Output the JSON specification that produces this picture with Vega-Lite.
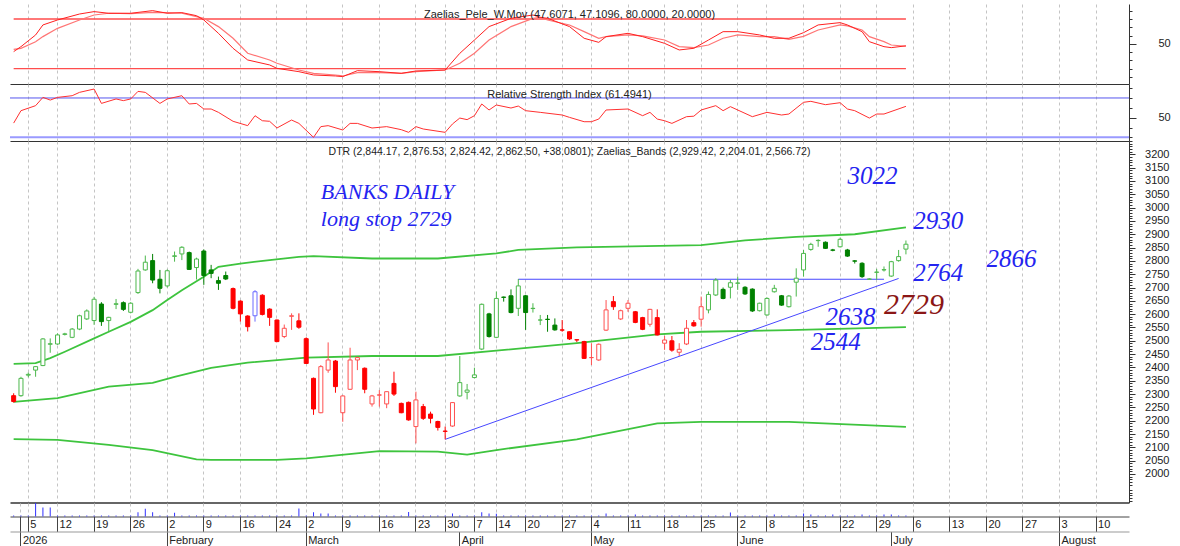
{
"$schema":"https://vega.github.io/schema/vega-lite/v6.json",
"padding":{"left":9,"top":4,"right":0,"bottom":0},
"background":"white",
"spacing":0,
"bounds":"flush",
"config":{"view":{"stroke":null},"font":"Liberation Sans","axis":{"labelFont":"Liberation Sans","labelFontSize":11,"labelColor":"#222","domainColor":"#333","tickColor":"#333","labelOverlap":false,"labelFlush":false,"labelBound":false,"labelAngle":0}},
"datasets":{
"candles":[
{"d":"2025-12-31","o":2294,"h":2303,"l":2268,"c":2272,"t":"R","v":8},
{"d":"2026-01-02","o":2294,"h":2365,"l":2290,"c":2359,"t":"G","v":8},
{"d":"2026-01-05","o":2371,"h":2381,"l":2363,"c":2374,"t":"G","v":8},
{"d":"2026-01-06","o":2390,"h":2405,"l":2365,"c":2403,"t":"G","v":100},
{"d":"2026-01-07","o":2407,"h":2510,"l":2405,"c":2507,"t":"G","v":66},
{"d":"2026-01-08","o":2487,"h":2509,"l":2455,"c":2489,"t":"G","v":66},
{"d":"2026-01-12","o":2488,"h":2528,"l":2485,"c":2522,"t":"G","v":8},
{"d":"2026-01-13","o":2524,"h":2530,"l":2520,"c":2526,"t":"G","v":8},
{"d":"2026-01-14","o":2513,"h":2548,"l":2510,"c":2544,"t":"G","v":8},
{"d":"2026-01-15","o":2544,"h":2598,"l":2540,"c":2594,"t":"G","v":8},
{"d":"2026-01-16","o":2582,"h":2618,"l":2578,"c":2612,"t":"G","v":8},
{"d":"2026-01-19","o":2576,"h":2665,"l":2560,"c":2656,"t":"G","v":8},
{"d":"2026-01-20","o":2638,"h":2645,"l":2556,"c":2572,"t":"G","v":8},
{"d":"2026-01-21","o":2576,"h":2590,"l":2534,"c":2588,"t":"G","v":8},
{"d":"2026-01-22","o":2637,"h":2657,"l":2619,"c":2639,"t":"G","v":8},
{"d":"2026-01-23","o":2643,"h":2648,"l":2612,"c":2618,"t":"G","v":8},
{"d":"2026-01-26","o":2607,"h":2645,"l":2603,"c":2641,"t":"G","v":8},
{"d":"2026-01-27","o":2681,"h":2770,"l":2676,"c":2762,"t":"G","v":31},
{"d":"2026-01-28","o":2766,"h":2820,"l":2763,"c":2795,"t":"G","v":57},
{"d":"2026-01-29","o":2801,"h":2826,"l":2716,"c":2728,"t":"G","v":31},
{"d":"2026-01-30","o":2731,"h":2766,"l":2678,"c":2697,"t":"G","v":8},
{"d":"2026-02-02","o":2706,"h":2768,"l":2700,"c":2763,"t":"G","v":8},
{"d":"2026-02-03","o":2817,"h":2835,"l":2797,"c":2819,"t":"G","v":28},
{"d":"2026-02-04","o":2826,"h":2855,"l":2803,"c":2851,"t":"G","v":8},
{"d":"2026-02-05","o":2831,"h":2835,"l":2766,"c":2768,"t":"G","v":8},
{"d":"2026-02-06","o":2775,"h":2812,"l":2730,"c":2807,"t":"G","v":8},
{"d":"2026-02-09","o":2837,"h":2843,"l":2710,"c":2745,"t":"G","v":8},
{"d":"2026-02-10","o":2766,"h":2785,"l":2735,"c":2753,"t":"G","v":8},
{"d":"2026-02-11","o":2726,"h":2741,"l":2691,"c":2716,"t":"G","v":8},
{"d":"2026-02-12","o":2745,"h":2760,"l":2728,"c":2732,"t":"G","v":8},
{"d":"2026-02-13","o":2696,"h":2700,"l":2618,"c":2622,"t":"R","v":8},
{"d":"2026-02-16","o":2649,"h":2652,"l":2572,"c":2601,"t":"R","v":8},
{"d":"2026-02-17","o":2593,"h":2596,"l":2535,"c":2553,"t":"R","v":8},
{"d":"2026-02-18","o":2594,"h":2690,"l":2572,"c":2684,"t":"B","v":8},
{"d":"2026-02-19","o":2671,"h":2675,"l":2595,"c":2599,"t":"R","v":8},
{"d":"2026-02-20","o":2619,"h":2622,"l":2556,"c":2588,"t":"R","v":8},
{"d":"2026-02-24","o":2578,"h":2580,"l":2495,"c":2497,"t":"R","v":8},
{"d":"2026-02-25","o":2516,"h":2561,"l":2510,"c":2547,"t":"R","v":8},
{"d":"2026-02-26","o":2592,"h":2603,"l":2541,"c":2594,"t":"R","v":8},
{"d":"2026-02-27","o":2575,"h":2603,"l":2545,"c":2551,"t":"R","v":60},
{"d":"2026-03-02","o":2508,"h":2513,"l":2413,"c":2415,"t":"R","v":8},
{"d":"2026-03-03","o":2359,"h":2362,"l":2222,"c":2244,"t":"R","v":31},
{"d":"2026-03-04","o":2230,"h":2409,"l":2228,"c":2403,"t":"R","v":22},
{"d":"2026-03-05","o":2390,"h":2494,"l":2380,"c":2428,"t":"R","v":22},
{"d":"2026-03-06","o":2424,"h":2428,"l":2305,"c":2328,"t":"R","v":8},
{"d":"2026-03-09","o":2230,"h":2295,"l":2196,"c":2293,"t":"R","v":8},
{"d":"2026-03-10","o":2318,"h":2474,"l":2316,"c":2428,"t":"R","v":8},
{"d":"2026-03-11","o":2428,"h":2440,"l":2390,"c":2437,"t":"R","v":8},
{"d":"2026-03-12","o":2397,"h":2400,"l":2303,"c":2318,"t":"R","v":8},
{"d":"2026-03-13","o":2263,"h":2297,"l":2253,"c":2293,"t":"R","v":8},
{"d":"2026-03-16","o":2296,"h":2315,"l":2253,"c":2297,"t":"R","v":8},
{"d":"2026-03-17","o":2263,"h":2310,"l":2247,"c":2309,"t":"R","v":8},
{"d":"2026-03-18","o":2340,"h":2384,"l":2293,"c":2300,"t":"R","v":8},
{"d":"2026-03-19","o":2265,"h":2268,"l":2228,"c":2230,"t":"R","v":8},
{"d":"2026-03-20","o":2269,"h":2272,"l":2200,"c":2203,"t":"R","v":34},
{"d":"2026-03-23","o":2178,"h":2309,"l":2115,"c":2278,"t":"R","v":8},
{"d":"2026-03-24","o":2253,"h":2263,"l":2203,"c":2209,"t":"R","v":8},
{"d":"2026-03-25","o":2225,"h":2234,"l":2190,"c":2209,"t":"R","v":8},
{"d":"2026-03-26","o":2197,"h":2200,"l":2163,"c":2175,"t":"R","v":8},
{"d":"2026-03-30","o":2161,"h":2178,"l":2130,"c":2160,"t":"R","v":8},
{"d":"2026-03-31","o":2180,"h":2270,"l":2177,"c":2268,"t":"R","v":22},
{"d":"2026-04-01","o":2293,"h":2443,"l":2290,"c":2343,"t":"G","v":8},
{"d":"2026-04-02","o":2307,"h":2338,"l":2280,"c":2315,"t":"G","v":8},
{"d":"2026-04-07","o":2362,"h":2399,"l":2359,"c":2372,"t":"G","v":8},
{"d":"2026-04-08","o":2469,"h":2640,"l":2465,"c":2637,"t":"G","v":31},
{"d":"2026-04-09","o":2601,"h":2605,"l":2512,"c":2516,"t":"G","v":22},
{"d":"2026-04-14","o":2513,"h":2685,"l":2510,"c":2659,"t":"G","v":20},
{"d":"2026-04-15","o":2664,"h":2666,"l":2647,"c":2663,"t":"G","v":8},
{"d":"2026-04-16","o":2669,"h":2693,"l":2603,"c":2606,"t":"G","v":8},
{"d":"2026-04-17","o":2622,"h":2732,"l":2593,"c":2706,"t":"G","v":8},
{"d":"2026-04-20","o":2669,"h":2672,"l":2541,"c":2606,"t":"G","v":8},
{"d":"2026-04-21","o":2621,"h":2641,"l":2606,"c":2622,"t":"G","v":8},
{"d":"2026-04-22","o":2578,"h":2597,"l":2559,"c":2578,"t":"G","v":8},
{"d":"2026-04-23","o":2581,"h":2597,"l":2534,"c":2580,"t":"G","v":8},
{"d":"2026-04-24","o":2559,"h":2584,"l":2538,"c":2541,"t":"G","v":8},
{"d":"2026-04-27","o":2541,"h":2578,"l":2534,"c":2540,"t":"R","v":8},
{"d":"2026-04-28","o":2534,"h":2535,"l":2503,"c":2507,"t":"R","v":8},
{"d":"2026-04-29","o":2504,"h":2506,"l":2495,"c":2503,"t":"R","v":8},
{"d":"2026-04-30","o":2497,"h":2500,"l":2432,"c":2434,"t":"R","v":8},
{"d":"2026-05-04","o":2437,"h":2491,"l":2409,"c":2437,"t":"R","v":8},
{"d":"2026-05-05","o":2428,"h":2490,"l":2425,"c":2487,"t":"R","v":8},
{"d":"2026-05-06","o":2540,"h":2653,"l":2537,"c":2616,"t":"R","v":22},
{"d":"2026-05-07","o":2647,"h":2668,"l":2616,"c":2628,"t":"R","v":8},
{"d":"2026-05-08","o":2582,"h":2617,"l":2578,"c":2613,"t":"R","v":8},
{"d":"2026-05-11","o":2622,"h":2653,"l":2609,"c":2641,"t":"R","v":8},
{"d":"2026-05-12","o":2609,"h":2612,"l":2566,"c":2569,"t":"R","v":15},
{"d":"2026-05-13","o":2587,"h":2590,"l":2540,"c":2543,"t":"R","v":8},
{"d":"2026-05-14","o":2562,"h":2620,"l":2553,"c":2618,"t":"R","v":8},
{"d":"2026-05-15","o":2587,"h":2618,"l":2520,"c":2522,"t":"R","v":8},
{"d":"2026-05-18","o":2491,"h":2518,"l":2466,"c":2503,"t":"R","v":8},
{"d":"2026-05-19","o":2500,"h":2518,"l":2459,"c":2465,"t":"R","v":8},
{"d":"2026-05-20","o":2457,"h":2491,"l":2443,"c":2468,"t":"R","v":8},
{"d":"2026-05-21","o":2488,"h":2578,"l":2484,"c":2547,"t":"R","v":8},
{"d":"2026-05-22","o":2568,"h":2578,"l":2553,"c":2556,"t":"R","v":8},
{"d":"2026-05-25","o":2581,"h":2666,"l":2553,"c":2628,"t":"R","v":8},
{"d":"2026-05-26","o":2616,"h":2685,"l":2603,"c":2674,"t":"G","v":8},
{"d":"2026-05-27","o":2672,"h":2735,"l":2668,"c":2728,"t":"G","v":8},
{"d":"2026-05-28","o":2693,"h":2700,"l":2656,"c":2659,"t":"G","v":8},
{"d":"2026-05-29","o":2701,"h":2728,"l":2659,"c":2718,"t":"G","v":30},
{"d":"2026-06-02","o":2716,"h":2741,"l":2691,"c":2717,"t":"G","v":8},
{"d":"2026-06-03","o":2701,"h":2705,"l":2672,"c":2676,"t":"G","v":8},
{"d":"2026-06-04","o":2694,"h":2697,"l":2608,"c":2612,"t":"G","v":8},
{"d":"2026-06-05","o":2613,"h":2643,"l":2610,"c":2641,"t":"G","v":8},
{"d":"2026-06-08","o":2597,"h":2663,"l":2594,"c":2659,"t":"G","v":8},
{"d":"2026-06-09","o":2684,"h":2710,"l":2681,"c":2697,"t":"G","v":15},
{"d":"2026-06-10","o":2669,"h":2672,"l":2631,"c":2634,"t":"G","v":8},
{"d":"2026-06-11","o":2628,"h":2672,"l":2625,"c":2668,"t":"G","v":8},
{"d":"2026-06-12","o":2720,"h":2772,"l":2666,"c":2735,"t":"G","v":8},
{"d":"2026-06-15","o":2766,"h":2841,"l":2741,"c":2828,"t":"G","v":22},
{"d":"2026-06-16","o":2843,"h":2868,"l":2838,"c":2862,"t":"G","v":15},
{"d":"2026-06-17","o":2876,"h":2881,"l":2853,"c":2877,"t":"G","v":8},
{"d":"2026-06-18","o":2870,"h":2873,"l":2845,"c":2847,"t":"G","v":8},
{"d":"2026-06-19","o":2841,"h":2845,"l":2836,"c":2840,"t":"G","v":15},
{"d":"2026-06-22","o":2853,"h":2887,"l":2850,"c":2881,"t":"G","v":8},
{"d":"2026-06-23","o":2841,"h":2845,"l":2815,"c":2818,"t":"G","v":8},
{"d":"2026-06-24","o":2800,"h":2803,"l":2790,"c":2799,"t":"G","v":8},
{"d":"2026-06-25","o":2791,"h":2795,"l":2736,"c":2741,"t":"G","v":15},
{"d":"2026-06-26","o":2731,"h":2735,"l":2729,"c":2732,"t":"G","v":8},
{"d":"2026-06-29","o":2757,"h":2770,"l":2729,"c":2758,"t":"G","v":8},
{"d":"2026-06-30","o":2766,"h":2779,"l":2760,"c":2767,"t":"G","v":15},
{"d":"2026-07-01","o":2743,"h":2800,"l":2740,"c":2797,"t":"G","v":15},
{"d":"2026-07-02","o":2801,"h":2841,"l":2797,"c":2816,"t":"G","v":8},
{"d":"2026-07-03","o":2844.17,"h":2876.53,"l":2824.42,"c":2862.5,"t":"G","v":8}
],
"osc":[
{"d":"2025-12-31","a":40.6,"b":43.4},{"d":"2026-01-02","a":46.6,"b":44.6},{"d":"2026-01-06","a":60.7,"b":52.6},{"d":"2026-01-07","a":72.8,"b":58.7},{"d":"2026-01-12","a":78.8,"b":68.7},{"d":"2026-01-15","a":86,"b":78.8},{"d":"2026-01-19","a":88.9,"b":84.8},{"d":"2026-01-21","a":86.9,"b":86.9},{"d":"2026-01-26","a":86.9,"b":86.5},{"d":"2026-01-29","a":90.1,"b":88},{"d":"2026-02-02","a":86.9,"b":87.7},{"d":"2026-02-04","a":87.7,"b":86.9},{"d":"2026-02-06","a":84,"b":82.8},{"d":"2026-02-09","a":78.8,"b":80.8},{"d":"2026-02-11","a":62.7,"b":70.8},{"d":"2026-02-13","a":44.6,"b":56.7},{"d":"2026-02-17","a":30.5,"b":38.6},{"d":"2026-02-20","a":24.5,"b":30.5},{"d":"2026-02-24","a":20.4,"b":26.5},{"d":"2026-02-27","a":16.4,"b":18.4},{"d":"2026-03-03","a":12.4,"b":14.4},{"d":"2026-03-06","a":11.2,"b":12.4},{"d":"2026-03-09","a":10.4,"b":11.2},{"d":"2026-03-11","a":17.6,"b":15.2},{"d":"2026-03-16","a":16.4,"b":15.2},{"d":"2026-03-19","a":14.4,"b":14.4},{"d":"2026-03-23","a":17.2,"b":16.4},{"d":"2026-03-30","a":18.4,"b":18.4},{"d":"2026-04-01","a":38.5,"b":26.5},{"d":"2026-04-07","a":54.6,"b":38.6},{"d":"2026-04-09","a":70.8,"b":54.6},{"d":"2026-04-16","a":80.8,"b":70.8},{"d":"2026-04-21","a":84.8,"b":80.8},{"d":"2026-04-22","a":82,"b":82},{"d":"2026-04-23","a":80.8,"b":78.8},{"d":"2026-04-28","a":70.8,"b":72.8},{"d":"2026-04-30","a":56.7,"b":64.7},{"d":"2026-05-05","a":51.8,"b":56.7},{"d":"2026-05-06","a":58.7,"b":58.7},{"d":"2026-05-11","a":62.7,"b":60.7},{"d":"2026-05-13","a":58.7,"b":59.5},{"d":"2026-05-18","a":50.6,"b":54.6},{"d":"2026-05-20","a":42.6,"b":46.6},{"d":"2026-05-22","a":44.6,"b":45.4},{"d":"2026-05-26","a":54.6,"b":48.6},{"d":"2026-05-28","a":64.7,"b":56.7},{"d":"2026-06-02","a":64.7,"b":60.7},{"d":"2026-06-05","a":60.7,"b":58.7},{"d":"2026-06-09","a":56.7,"b":58.7},{"d":"2026-06-11","a":56.7,"b":55.5},{"d":"2026-06-15","a":63.5,"b":59},{"d":"2026-06-17","a":72.8,"b":66.7},{"d":"2026-06-22","a":75.6,"b":72.8},{"d":"2026-06-23","a":72.8,"b":71.6},{"d":"2026-06-25","a":64.7,"b":66.7},{"d":"2026-06-26","a":52.6,"b":58.7},{"d":"2026-06-30","a":46.6,"b":52.6},{"d":"2026-07-01","a":45.4,"b":48.6},{"d":"2026-07-03","a":47.6071,"b":47.1096}
],
"rsi":[
{"d":"2025-12-31","r":44.5},{"d":"2026-01-02","r":57.1},{"d":"2026-01-06","r":62.2},{"d":"2026-01-07","r":70.6},{"d":"2026-01-08","r":67.9},{"d":"2026-01-12","r":70.6},{"d":"2026-01-14","r":72.3},{"d":"2026-01-15","r":75.7},{"d":"2026-01-19","r":79.1},{"d":"2026-01-20","r":64.5},{"d":"2026-01-22","r":69},{"d":"2026-01-23","r":67.3},{"d":"2026-01-26","r":69},{"d":"2026-01-27","r":76.7},{"d":"2026-01-28","r":75.7},{"d":"2026-01-30","r":64.5},{"d":"2026-02-02","r":69},{"d":"2026-02-04","r":72.3},{"d":"2026-02-05","r":63.9},{"d":"2026-02-06","r":64.5},{"d":"2026-02-09","r":58.8},{"d":"2026-02-10","r":58.8},{"d":"2026-02-11","r":55.4},{"d":"2026-02-13","r":46.3},{"d":"2026-02-17","r":41.9},{"d":"2026-02-18","r":52},{"d":"2026-02-19","r":46.9},{"d":"2026-02-20","r":46.3},{"d":"2026-02-24","r":39.5},{"d":"2026-02-26","r":47.6},{"d":"2026-02-27","r":44.2},{"d":"2026-03-03","r":30},{"d":"2026-03-04","r":40.9},{"d":"2026-03-05","r":41.9},{"d":"2026-03-09","r":37.5},{"d":"2026-03-10","r":44.2},{"d":"2026-03-11","r":44.2},{"d":"2026-03-13","r":39.5},{"d":"2026-03-17","r":40.9},{"d":"2026-03-19","r":37.8},{"d":"2026-03-20","r":35.1},{"d":"2026-03-23","r":40.9},{"d":"2026-03-24","r":38.5},{"d":"2026-03-30","r":35.1},{"d":"2026-03-31","r":43.6},{"d":"2026-04-01","r":49.6},{"d":"2026-04-02","r":48},{"d":"2026-04-07","r":52},{"d":"2026-04-08","r":63.9},{"d":"2026-04-09","r":57.8},{"d":"2026-04-14","r":62.9},{"d":"2026-04-16","r":59.8},{"d":"2026-04-17","r":61.8},{"d":"2026-04-20","r":57.1},{"d":"2026-04-22","r":55.4},{"d":"2026-04-27","r":52.7},{"d":"2026-04-28","r":50.3},{"d":"2026-04-30","r":45.9},{"d":"2026-05-04","r":45.9},{"d":"2026-05-05","r":48.6},{"d":"2026-05-06","r":57.8},{"d":"2026-05-11","r":58.8},{"d":"2026-05-13","r":52},{"d":"2026-05-14","r":55.4},{"d":"2026-05-15","r":48.6},{"d":"2026-05-18","r":46.9},{"d":"2026-05-19","r":44.2},{"d":"2026-05-21","r":51},{"d":"2026-05-22","r":51.5},{"d":"2026-05-25","r":57.8},{"d":"2026-05-27","r":62.2},{"d":"2026-05-28","r":57.1},{"d":"2026-05-29","r":61.2},{"d":"2026-06-04","r":51},{"d":"2026-06-08","r":55.4},{"d":"2026-06-10","r":52.7},{"d":"2026-06-11","r":53.7},{"d":"2026-06-15","r":65.6},{"d":"2026-06-16","r":66.6},{"d":"2026-06-18","r":63.2},{"d":"2026-06-22","r":65.2},{"d":"2026-06-23","r":58.8},{"d":"2026-06-24","r":57.1},{"d":"2026-06-26","r":49.6},{"d":"2026-06-29","r":53.7},{"d":"2026-06-30","r":53.7},{"d":"2026-07-03","r":61.4941}
],
"bands":[
{"d":"2025-12-31","s":"upper","p":2413},{"d":"2026-01-06","s":"upper","p":2416},{"d":"2026-01-08","s":"upper","p":2435},{"d":"2026-01-13","s":"upper","p":2459},{"d":"2026-01-19","s":"upper","p":2509},{"d":"2026-01-21","s":"upper","p":2534},{"d":"2026-01-26","s":"upper","p":2571},{"d":"2026-01-29","s":"upper","p":2615},{"d":"2026-02-02","s":"upper","p":2653},{"d":"2026-02-04","s":"upper","p":2690},{"d":"2026-02-09","s":"upper","p":2740},{"d":"2026-02-11","s":"upper","p":2778},{"d":"2026-02-16","s":"upper","p":2790},{"d":"2026-02-20","s":"upper","p":2803},{"d":"2026-02-27","s":"upper","p":2815},{"d":"2026-03-03","s":"upper","p":2818},{"d":"2026-03-13","s":"upper","p":2809},{"d":"2026-03-26","s":"upper","p":2809},{"d":"2026-04-14","s":"upper","p":2828},{"d":"2026-04-17","s":"upper","p":2841},{"d":"2026-04-29","s":"upper","p":2851},{"d":"2026-05-25","s":"upper","p":2859},{"d":"2026-06-03","s":"upper","p":2877},{"d":"2026-06-12","s":"upper","p":2890},{"d":"2026-06-24","s":"upper","p":2900},{"d":"2026-07-03","s":"upper","p":2926},
{"d":"2025-12-31","s":"middle","p":2271},{"d":"2026-01-12","s":"middle","p":2285},{"d":"2026-01-21","s":"middle","p":2328},{"d":"2026-01-29","s":"middle","p":2342},{"d":"2026-02-03","s":"middle","p":2365},{"d":"2026-02-10","s":"middle","p":2398},{"d":"2026-02-17","s":"middle","p":2418},{"d":"2026-03-02","s":"middle","p":2437},{"d":"2026-03-13","s":"middle","p":2443},{"d":"2026-03-26","s":"middle","p":2443},{"d":"2026-04-14","s":"middle","p":2463},{"d":"2026-04-29","s":"middle","p":2491},{"d":"2026-05-15","s":"middle","p":2524},{"d":"2026-05-25","s":"middle","p":2534},{"d":"2026-06-11","s":"middle","p":2540},{"d":"2026-07-03","s":"middle","p":2551},
{"d":"2025-12-31","s":"lower","p":2131},{"d":"2026-01-12","s":"lower","p":2128},{"d":"2026-01-21","s":"lower","p":2109},{"d":"2026-01-29","s":"lower","p":2090},{"d":"2026-02-06","s":"lower","p":2055},{"d":"2026-02-10","s":"lower","p":2053},{"d":"2026-02-24","s":"lower","p":2053},{"d":"2026-03-02","s":"lower","p":2059},{"d":"2026-03-16","s":"lower","p":2086},{"d":"2026-03-26","s":"lower","p":2084},{"d":"2026-04-02","s":"lower","p":2073},{"d":"2026-04-14","s":"lower","p":2090},{"d":"2026-04-29","s":"lower","p":2130},{"d":"2026-05-15","s":"lower","p":2190},{"d":"2026-05-25","s":"lower","p":2196},{"d":"2026-06-11","s":"lower","p":2196},{"d":"2026-07-03","s":"lower","p":2177}
],
"trend":[
{"d":"2026-03-30","p":2130,"ln":"diag"},{"d":"2026-07-02","p":2734,"ln":"diag"},{"d":"2026-04-17","p":2731,"ln":"flat"},{"d":"2026-06-30","p":2731,"ln":"flat"}
],
"notes":[
{"d":"2026-03-04","p":3060,"txt":"BANKS DAILY","g":"a"},
{"d":"2026-03-04","p":2957,"txt":"long stop 2729","g":"a"},
{"d":"2026-06-23","p":3118,"txt":"3022","g":"b"},
{"d":"2026-07-06","p":2950,"txt":"2930","g":"b"},
{"d":"2026-07-20","p":2807,"txt":"2866","g":"b"},
{"d":"2026-07-06","p":2753,"txt":"2764","g":"b"},
{"d":"2026-06-18","p":2590,"txt":"2638","g":"b"},
{"d":"2026-06-16","p":2494,"txt":"2544","g":"b"},
{"d":"2026-06-30","p":2636,"txt":"2729","g":"c"}
]
},
"vconcat":[
{
"width":1119,"height":80,
"title":{"text":"Zaelias_Pele_W.Mov (47.6071, 47.1096, 80.0000, 20.0000)","offset":-22,"baseline":"middle","fontSize":11,"font":"Liberation Sans","fontWeight":"normal","color":"#222","anchor":"middle","frame":"group"},
"resolve":{"axis":{"y":"independent"}},
"layer":[
{"data":{"values":[{"lvl":80},{"lvl":20}]},
 "mark":{"type":"rule","color":"#ff4d4d","strokeWidth":1.3},
 "encoding":{
  "x":{"datum":"2025-12-31","type":"ordinal","scale":{"type":"band","paddingInner":0,"paddingOuter":0,"domain":["2025-12-31","2026-01-02","2026-01-05","2026-01-06","2026-01-07","2026-01-08","2026-01-12","2026-01-13","2026-01-14","2026-01-15","2026-01-16","2026-01-19","2026-01-20","2026-01-21","2026-01-22","2026-01-23","2026-01-26","2026-01-27","2026-01-28","2026-01-29","2026-01-30","2026-02-02","2026-02-03","2026-02-04","2026-02-05","2026-02-06","2026-02-09","2026-02-10","2026-02-11","2026-02-12","2026-02-13","2026-02-16","2026-02-17","2026-02-18","2026-02-19","2026-02-20","2026-02-24","2026-02-25","2026-02-26","2026-02-27","2026-03-02","2026-03-03","2026-03-04","2026-03-05","2026-03-06","2026-03-09","2026-03-10","2026-03-11","2026-03-12","2026-03-13","2026-03-16","2026-03-17","2026-03-18","2026-03-19","2026-03-20","2026-03-23","2026-03-24","2026-03-25","2026-03-26","2026-03-30","2026-03-31","2026-04-01","2026-04-02","2026-04-07","2026-04-08","2026-04-09","2026-04-14","2026-04-15","2026-04-16","2026-04-17","2026-04-20","2026-04-21","2026-04-22","2026-04-23","2026-04-24","2026-04-27","2026-04-28","2026-04-29","2026-04-30","2026-05-04","2026-05-05","2026-05-06","2026-05-07","2026-05-08","2026-05-11","2026-05-12","2026-05-13","2026-05-14","2026-05-15","2026-05-18","2026-05-19","2026-05-20","2026-05-21","2026-05-22","2026-05-25","2026-05-26","2026-05-27","2026-05-28","2026-05-29","2026-06-02","2026-06-03","2026-06-04","2026-06-05","2026-06-08","2026-06-09","2026-06-10","2026-06-11","2026-06-12","2026-06-15","2026-06-16","2026-06-17","2026-06-18","2026-06-19","2026-06-22","2026-06-23","2026-06-24","2026-06-25","2026-06-26","2026-06-29","2026-06-30","2026-07-01","2026-07-02","2026-07-03","2026-07-06","2026-07-07","2026-07-08","2026-07-09","2026-07-10","2026-07-13","2026-07-14","2026-07-15","2026-07-16","2026-07-17","2026-07-20","2026-07-21","2026-07-22","2026-07-23","2026-07-24","2026-07-27","2026-07-28","2026-07-29","2026-07-30","2026-07-31","2026-08-03","2026-08-04","2026-08-05","2026-08-06","2026-08-07","2026-08-10","2026-08-11","2026-08-12","2026-08-13","2026-08-14"]},
   "axis":{"orient":"bottom","title":null,"values":["2026-01-05","2026-01-12","2026-01-19","2026-01-26","2026-02-02","2026-02-09","2026-02-16","2026-02-24","2026-03-02","2026-03-09","2026-03-16","2026-03-23","2026-03-30","2026-04-07","2026-04-14","2026-04-20","2026-04-27","2026-05-04","2026-05-11","2026-05-18","2026-05-25","2026-06-02","2026-06-08","2026-06-15","2026-06-22","2026-06-29","2026-07-06","2026-07-13","2026-07-20","2026-07-27","2026-08-03","2026-08-10"],"labels":false,"ticks":false,"grid":true,"gridDash":[3,3],"gridColor":"#c4c4c4","domainColor":"#333"}},
  "x2":{"datum":"2026-07-03"},
  "y":{"field":"lvl","type":"quantitative","scale":{"domain":[1.5,98.1],"zero":false,"nice":false},
   "axis":{"orient":"right","title":null,"values":[10,20,30,40,60,70,80,90],"labels":false,"tickSize":3,"domain":false,"grid":false}}
 }},
{"data":{"name":"osc"},"mark":{"type":"line","color":"#ff7575","strokeWidth":1.2},
 "encoding":{"x":{"field":"d","type":"ordinal"},"y":{"field":"b","type":"quantitative","axis":null}}},
{"data":{"name":"osc"},"mark":{"type":"line","color":"#ff2020","strokeWidth":1},
 "encoding":{"x":{"field":"d","type":"ordinal"},"y":{"field":"a","type":"quantitative","axis":{"orient":"right","title":null,"values":[50],"format":"d","tickSize":7,"labelAlign":"left","labelPadding":22,"labelOverlap":false,"grid":false,"domainColor":"#333"}}}}
]
},
{
"width":1119,"height":57,
"title":{"text":"Relative Strength Index (61.4941)","offset":-22,"baseline":"middle","fontSize":11,"font":"Liberation Sans","fontWeight":"normal","color":"#222","anchor":"middle","frame":"group"},
"resolve":{"axis":{"y":"independent"}},
"layer":[
{"data":{"values":[{"lvl":70}]},
 "mark":{"type":"rule","color":"#5555ee","strokeWidth":1},
 "encoding":{
  "y":{"field":"lvl","type":"quantitative","scale":{"domain":[26.3,84.2],"zero":false,"nice":false},
   "axis":{"orient":"right","title":null,"values":[30,40,60,70,80],"labels":false,"tickSize":3,"domain":false,"grid":false}}
 }},
{"data":{"values":[{"lvl":30}]},
 "mark":{"type":"rule","color":"#9a9aff","strokeWidth":2},
 "encoding":{"y":{"field":"lvl","type":"quantitative","axis":null}}},
{"data":{"name":"rsi"},"mark":{"type":"line","color":"#ff3030","strokeWidth":1},
 "encoding":{
  "x":{"field":"d","type":"ordinal","scale":{"type":"band","paddingInner":0,"paddingOuter":0,"domain":["2025-12-31","2026-01-02","2026-01-05","2026-01-06","2026-01-07","2026-01-08","2026-01-12","2026-01-13","2026-01-14","2026-01-15","2026-01-16","2026-01-19","2026-01-20","2026-01-21","2026-01-22","2026-01-23","2026-01-26","2026-01-27","2026-01-28","2026-01-29","2026-01-30","2026-02-02","2026-02-03","2026-02-04","2026-02-05","2026-02-06","2026-02-09","2026-02-10","2026-02-11","2026-02-12","2026-02-13","2026-02-16","2026-02-17","2026-02-18","2026-02-19","2026-02-20","2026-02-24","2026-02-25","2026-02-26","2026-02-27","2026-03-02","2026-03-03","2026-03-04","2026-03-05","2026-03-06","2026-03-09","2026-03-10","2026-03-11","2026-03-12","2026-03-13","2026-03-16","2026-03-17","2026-03-18","2026-03-19","2026-03-20","2026-03-23","2026-03-24","2026-03-25","2026-03-26","2026-03-30","2026-03-31","2026-04-01","2026-04-02","2026-04-07","2026-04-08","2026-04-09","2026-04-14","2026-04-15","2026-04-16","2026-04-17","2026-04-20","2026-04-21","2026-04-22","2026-04-23","2026-04-24","2026-04-27","2026-04-28","2026-04-29","2026-04-30","2026-05-04","2026-05-05","2026-05-06","2026-05-07","2026-05-08","2026-05-11","2026-05-12","2026-05-13","2026-05-14","2026-05-15","2026-05-18","2026-05-19","2026-05-20","2026-05-21","2026-05-22","2026-05-25","2026-05-26","2026-05-27","2026-05-28","2026-05-29","2026-06-02","2026-06-03","2026-06-04","2026-06-05","2026-06-08","2026-06-09","2026-06-10","2026-06-11","2026-06-12","2026-06-15","2026-06-16","2026-06-17","2026-06-18","2026-06-19","2026-06-22","2026-06-23","2026-06-24","2026-06-25","2026-06-26","2026-06-29","2026-06-30","2026-07-01","2026-07-02","2026-07-03","2026-07-06","2026-07-07","2026-07-08","2026-07-09","2026-07-10","2026-07-13","2026-07-14","2026-07-15","2026-07-16","2026-07-17","2026-07-20","2026-07-21","2026-07-22","2026-07-23","2026-07-24","2026-07-27","2026-07-28","2026-07-29","2026-07-30","2026-07-31","2026-08-03","2026-08-04","2026-08-05","2026-08-06","2026-08-07","2026-08-10","2026-08-11","2026-08-12","2026-08-13","2026-08-14"]},
   "axis":{"orient":"bottom","title":null,"values":["2026-01-05","2026-01-12","2026-01-19","2026-01-26","2026-02-02","2026-02-09","2026-02-16","2026-02-24","2026-03-02","2026-03-09","2026-03-16","2026-03-23","2026-03-30","2026-04-07","2026-04-14","2026-04-20","2026-04-27","2026-05-04","2026-05-11","2026-05-18","2026-05-25","2026-06-02","2026-06-08","2026-06-15","2026-06-22","2026-06-29","2026-07-06","2026-07-13","2026-07-20","2026-07-27","2026-08-03","2026-08-10"],"labels":false,"ticks":false,"grid":true,"gridDash":[3,3],"gridColor":"#c4c4c4","domainColor":"#333"}},
  "y":{"field":"r","type":"quantitative","axis":{"orient":"right","title":null,"values":[50],"format":"d","tickSize":7,"labelAlign":"left","labelPadding":22,"labelOverlap":false,"grid":false,"domainColor":"#333"}}}}
]
},
{
"width":1119,"height":361.5,
"title":{"text":"DTR (2,844.17, 2,876.53, 2,824.42, 2,862.50, +38.0801); Zaelias_Bands (2,929.42, 2,204.01, 2,566.72)","offset":-22,"baseline":"middle","fontSize":10.5,"font":"Liberation Sans","fontWeight":"normal","color":"#222","anchor":"middle","frame":"group"},
"resolve":{"axis":{"y":"independent"}},
"layer":[
{"data":{"name":"bands"},"mark":{"type":"line","color":"#3ec43e","strokeWidth":1.8},
 "encoding":{
  "x":{"field":"d","type":"ordinal","scale":{"type":"band","paddingInner":0,"paddingOuter":0,"domain":["2025-12-31","2026-01-02","2026-01-05","2026-01-06","2026-01-07","2026-01-08","2026-01-12","2026-01-13","2026-01-14","2026-01-15","2026-01-16","2026-01-19","2026-01-20","2026-01-21","2026-01-22","2026-01-23","2026-01-26","2026-01-27","2026-01-28","2026-01-29","2026-01-30","2026-02-02","2026-02-03","2026-02-04","2026-02-05","2026-02-06","2026-02-09","2026-02-10","2026-02-11","2026-02-12","2026-02-13","2026-02-16","2026-02-17","2026-02-18","2026-02-19","2026-02-20","2026-02-24","2026-02-25","2026-02-26","2026-02-27","2026-03-02","2026-03-03","2026-03-04","2026-03-05","2026-03-06","2026-03-09","2026-03-10","2026-03-11","2026-03-12","2026-03-13","2026-03-16","2026-03-17","2026-03-18","2026-03-19","2026-03-20","2026-03-23","2026-03-24","2026-03-25","2026-03-26","2026-03-30","2026-03-31","2026-04-01","2026-04-02","2026-04-07","2026-04-08","2026-04-09","2026-04-14","2026-04-15","2026-04-16","2026-04-17","2026-04-20","2026-04-21","2026-04-22","2026-04-23","2026-04-24","2026-04-27","2026-04-28","2026-04-29","2026-04-30","2026-05-04","2026-05-05","2026-05-06","2026-05-07","2026-05-08","2026-05-11","2026-05-12","2026-05-13","2026-05-14","2026-05-15","2026-05-18","2026-05-19","2026-05-20","2026-05-21","2026-05-22","2026-05-25","2026-05-26","2026-05-27","2026-05-28","2026-05-29","2026-06-02","2026-06-03","2026-06-04","2026-06-05","2026-06-08","2026-06-09","2026-06-10","2026-06-11","2026-06-12","2026-06-15","2026-06-16","2026-06-17","2026-06-18","2026-06-19","2026-06-22","2026-06-23","2026-06-24","2026-06-25","2026-06-26","2026-06-29","2026-06-30","2026-07-01","2026-07-02","2026-07-03","2026-07-06","2026-07-07","2026-07-08","2026-07-09","2026-07-10","2026-07-13","2026-07-14","2026-07-15","2026-07-16","2026-07-17","2026-07-20","2026-07-21","2026-07-22","2026-07-23","2026-07-24","2026-07-27","2026-07-28","2026-07-29","2026-07-30","2026-07-31","2026-08-03","2026-08-04","2026-08-05","2026-08-06","2026-08-07","2026-08-10","2026-08-11","2026-08-12","2026-08-13","2026-08-14"]},
   "axis":{"orient":"bottom","title":null,"values":["2026-01-05","2026-01-12","2026-01-19","2026-01-26","2026-02-02","2026-02-09","2026-02-16","2026-02-24","2026-03-02","2026-03-09","2026-03-16","2026-03-23","2026-03-30","2026-04-07","2026-04-14","2026-04-20","2026-04-27","2026-05-04","2026-05-11","2026-05-18","2026-05-25","2026-06-02","2026-06-08","2026-06-15","2026-06-22","2026-06-29","2026-07-06","2026-07-13","2026-07-20","2026-07-27","2026-08-03","2026-08-10"],"labels":false,"ticks":false,"grid":true,"gridDash":[3,3],"gridColor":"#c4c4c4","domainColor":"#666","domainWidth":2}},
  "y":{"field":"p","type":"quantitative","scale":{"domain":[1893,3250],"zero":false,"nice":false},
   "axis":{"orient":"right","title":null,"values":[2000,2050,2100,2150,2200,2250,2300,2350,2400,2450,2500,2550,2600,2650,2700,2750,2800,2850,2900,2950,3000,3050,3100,3150,3200],"format":"d","tickSize":6,"labelAlign":"right","labelPadding":34,"labelOverlap":false,"grid":false,"domainColor":"#333"}},
  "detail":{"field":"s","type":"nominal"}}},
{"mark":{"type":"rule","color":"#3434d8","strokeWidth":1},
 "encoding":{"y":{"datum":2866,"type":"quantitative","axis":null}}},
{"data":{"name":"trend"},"mark":{"type":"line","color":"#4747ff","strokeWidth":1},
 "encoding":{"x":{"field":"d","type":"ordinal"},"y":{"field":"p","type":"quantitative","axis":{"orient":"right","title":null,"values":[1900,1910,1920,1930,1940,1960,1970,1980,1990,2010,2020,2030,2040,2060,2070,2080,2090,2110,2120,2130,2140,2160,2170,2180,2190,2210,2220,2230,2240,2260,2270,2280,2290,2310,2320,2330,2340,2360,2370,2380,2390,2410,2420,2430,2440,2460,2470,2480,2490,2510,2520,2530,2540,2560,2570,2580,2590,2610,2620,2630,2640,2660,2670,2680,2690,2710,2720,2730,2740,2760,2770,2780,2790,2810,2820,2830,2840,2860,2870,2880,2890,2910,2920,2930,2940,2960,2970,2980,2990,3010,3020,3030,3040,3060,3070,3080,3090,3110,3120,3130,3140,3160,3170,3180,3190,3210,3220,3230,3240,3250],"labels":false,"tickSize":3,"domain":false,"grid":false}},"detail":{"field":"ln","type":"nominal"}}},
{"data":{"name":"candles"},
 "transform":[{"calculate":"datum.t + (datum.c >= datum.o ? 'h' : 'f')","as":"k"}],
 "layer":[
  {"mark":{"type":"rule","strokeWidth":1},
   "encoding":{"x":{"field":"d","type":"ordinal"},"y":{"field":"l","type":"quantitative","axis":null},"y2":{"field":"h"},
    "color":{"field":"k","type":"nominal","legend":null,"scale":{"domain":["Gf","Gh","Rf","Rh","Bf","Bh"],"range":["#008000","#4cb84c","#ff0000","#ff5050","#0000ff","#6a6aff"]}}}},
  {"mark":{"type":"bar","size":4,"strokeWidth":1},
   "encoding":{"x":{"field":"d","type":"ordinal"},"y":{"field":"o","type":"quantitative","axis":null},"y2":{"field":"c"},
    "fill":{"condition":{"test":"datum.c >= datum.o","value":"#ffffff"},"field":"k","type":"nominal","legend":null,"scale":{"domain":["Gf","Gh","Rf","Rh","Bf","Bh"],"range":["#008000","#4cb84c","#ff0000","#ff5050","#0000ff","#6a6aff"]}},
    "stroke":{"field":"k","type":"nominal","legend":null,"scale":{"domain":["Gf","Gh","Rf","Rh","Bf","Bh"],"range":["#008000","#4cb84c","#ff0000","#ff5050","#0000ff","#6a6aff"]}}}}
 ]},
{"data":{"name":"notes"},"transform":[{"filter":"datum.g == 'a'"}],
 "mark":{"type":"text","align":"left","baseline":"middle","font":"Liberation Serif","fontStyle":"italic","fontSize":22,"color":"#2424f0"},
 "encoding":{"x":{"field":"d","type":"ordinal"},"y":{"field":"p","type":"quantitative","axis":null},"text":{"field":"txt"}}},
{"data":{"name":"notes"},"transform":[{"filter":"datum.g == 'b'"}],
 "mark":{"type":"text","align":"left","baseline":"middle","font":"Liberation Serif","fontStyle":"italic","fontSize":25,"color":"#2424f0"},
 "encoding":{"x":{"field":"d","type":"ordinal"},"y":{"field":"p","type":"quantitative","axis":null},"text":{"field":"txt"}}},
{"data":{"name":"notes"},"transform":[{"filter":"datum.g == 'c'"}],
 "mark":{"type":"text","align":"left","baseline":"middle","font":"Liberation Serif","fontStyle":"italic","fontSize":30,"color":"#8b1616"},
 "encoding":{"x":{"field":"d","type":"ordinal"},"y":{"field":"p","type":"quantitative","axis":null},"text":{"field":"txt"}}}
]
},
{
"width":1119,"height":13.5,
"data":{"name":"candles"},
"resolve":{"axis":{"x":"independent"}},
"layer":[
{"mark":{"type":"bar","size":1,"color":"#3030ff"},
 "encoding":{
  "x":{"field":"d","type":"ordinal","scale":{"type":"band","paddingInner":0,"paddingOuter":0,"domain":["2025-12-31","2026-01-02","2026-01-05","2026-01-06","2026-01-07","2026-01-08","2026-01-12","2026-01-13","2026-01-14","2026-01-15","2026-01-16","2026-01-19","2026-01-20","2026-01-21","2026-01-22","2026-01-23","2026-01-26","2026-01-27","2026-01-28","2026-01-29","2026-01-30","2026-02-02","2026-02-03","2026-02-04","2026-02-05","2026-02-06","2026-02-09","2026-02-10","2026-02-11","2026-02-12","2026-02-13","2026-02-16","2026-02-17","2026-02-18","2026-02-19","2026-02-20","2026-02-24","2026-02-25","2026-02-26","2026-02-27","2026-03-02","2026-03-03","2026-03-04","2026-03-05","2026-03-06","2026-03-09","2026-03-10","2026-03-11","2026-03-12","2026-03-13","2026-03-16","2026-03-17","2026-03-18","2026-03-19","2026-03-20","2026-03-23","2026-03-24","2026-03-25","2026-03-26","2026-03-30","2026-03-31","2026-04-01","2026-04-02","2026-04-07","2026-04-08","2026-04-09","2026-04-14","2026-04-15","2026-04-16","2026-04-17","2026-04-20","2026-04-21","2026-04-22","2026-04-23","2026-04-24","2026-04-27","2026-04-28","2026-04-29","2026-04-30","2026-05-04","2026-05-05","2026-05-06","2026-05-07","2026-05-08","2026-05-11","2026-05-12","2026-05-13","2026-05-14","2026-05-15","2026-05-18","2026-05-19","2026-05-20","2026-05-21","2026-05-22","2026-05-25","2026-05-26","2026-05-27","2026-05-28","2026-05-29","2026-06-02","2026-06-03","2026-06-04","2026-06-05","2026-06-08","2026-06-09","2026-06-10","2026-06-11","2026-06-12","2026-06-15","2026-06-16","2026-06-17","2026-06-18","2026-06-19","2026-06-22","2026-06-23","2026-06-24","2026-06-25","2026-06-26","2026-06-29","2026-06-30","2026-07-01","2026-07-02","2026-07-03","2026-07-06","2026-07-07","2026-07-08","2026-07-09","2026-07-10","2026-07-13","2026-07-14","2026-07-15","2026-07-16","2026-07-17","2026-07-20","2026-07-21","2026-07-22","2026-07-23","2026-07-24","2026-07-27","2026-07-28","2026-07-29","2026-07-30","2026-07-31","2026-08-03","2026-08-04","2026-08-05","2026-08-06","2026-08-07","2026-08-10","2026-08-11","2026-08-12","2026-08-13","2026-08-14"]},
   "axis":{"orient":"bottom","title":null,"values":["2026-01-02","2026-01-05","2026-01-12","2026-01-19","2026-01-26","2026-02-02","2026-02-09","2026-02-16","2026-02-24","2026-03-02","2026-03-09","2026-03-16","2026-03-23","2026-03-30","2026-04-07","2026-04-14","2026-04-20","2026-04-27","2026-05-04","2026-05-11","2026-05-18","2026-05-25","2026-06-02","2026-06-08","2026-06-15","2026-06-22","2026-06-29","2026-07-06","2026-07-13","2026-07-20","2026-07-27","2026-08-03","2026-08-10"],
    "labelExpr":"datum.value == '2026-01-02' ? '' : '' + toNumber(slice(datum.value, 8))","labelAngle":0,"labelAlign":"left","labelBaseline":"middle","labelPadding":-7,"labelOffset":2,"labelOverlap":false,"tickSize":15,"tickColor":"#444","grid":true,"gridDash":[3,3],"gridColor":"#c4c4c4","domainColor":"#444","labelColor":"#222"}},
  "y":{"field":"v","type":"quantitative","scale":{"domain":[0,100],"nice":false},
   "axis":{"orient":"right","title":null,"values":[0,25,50,75,100],"labels":false,"tickSize":3,"grid":false,"domainColor":"#333"}}}},
{"mark":{"type":"bar","size":1,"opacity":0},
 "encoding":{
  "x":{"field":"d","type":"ordinal",
   "axis":{"orient":"bottom","offset":15,"title":null,"values":["2026-01-02","2026-02-02","2026-03-02","2026-04-01","2026-05-04","2026-06-02","2026-07-01","2026-08-03"],
    "labelExpr":"slice(datum.value,5,7) == '01' ? '2026' : slice(datum.value,5,7) == '02' ? 'February' : slice(datum.value,5,7) == '03' ? 'March' : slice(datum.value,5,7) == '04' ? 'April' : slice(datum.value,5,7) == '05' ? 'May' : slice(datum.value,5,7) == '06' ? 'June' : slice(datum.value,5,7) == '07' ? 'July' : 'August'",
    "labelAngle":0,"labelAlign":"left","labelBaseline":"middle","labelPadding":-6,"labelOffset":2,"labelOverlap":false,"tickSize":15,"tickColor":"#444","grid":false,"domainColor":"#999","labelColor":"#222"}},
  "y":{"field":"v","type":"quantitative","axis":null}}}
]
}
]
}
